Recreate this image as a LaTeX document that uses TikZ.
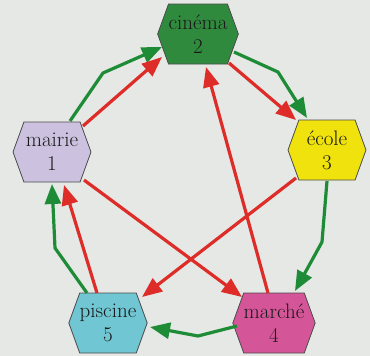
\documentclass[tikz,border=0pt]{standalone}
\usetikzlibrary{shapes.symbols,arrows.meta,calc}
\definecolor{bg}{RGB}{229,232,228}
\definecolor{gr}{RGB}{30,140,55}
\definecolor{rd}{RGB}{222,45,40}
\definecolor{cin}{RGB}{48,138,62}
\definecolor{mai}{RGB}{204,194,224}
\definecolor{eco}{RGB}{240,226,12}
\definecolor{pis}{RGB}{112,198,210}
\definecolor{mar}{RGB}{212,86,152}
\tikzset{
  place/.style={signal, signal to=east and west, signal from=nowhere,
    signal pointer angle=140, minimum width=78pt, minimum height=60pt,
    inner sep=0pt, align=center, draw=black!70, line width=0.8pt,
    font=\fontsize{21}{24}\selectfont, text=black!90},
  garrow/.style={draw=gr, line width=3.2pt, line join=round,
    -{Triangle[length=20pt,width=16pt]}},
  rarrow/.style={draw=rd, line width=3.2pt,
    -{Triangle[length=20pt,width=16pt]}}
}
\begin{document}
\begin{tikzpicture}[x=1pt,y=-1pt]
\fill[bg] (0,0) rectangle (370,356);
\useasboundingbox (0,0) rectangle (370,356);

\node[place, fill=cin] (cinema) at (198,34) {cinéma\\2};
\node[place, fill=mai] (mairie) at (52,152) {mairie\\1};
\node[place, fill=eco] (ecole) at (327,150) {école\\3};
\node[place, fill=mar] (marche) at (274,323) {marché\\4};
\node[place, fill=pis] (piscine) at (108,323) {piscine\\5};

\coordinate (k12) at (103,73);
\coordinate (k23) at (278,72);
\coordinate (k34) at (322,242);
\coordinate (k45) at (198,336);
\coordinate (k51) at (55,248);

% green cycle
\draw[garrow] ($(mairie)+(18,-31)$) -- (k12) -- ($(cinema)+(-36,13)$);
\draw[garrow] ($(cinema)+(36,18)$) -- (k23) -- ($(ecole)+(-20,-32)$);
\draw[garrow] ($(ecole)+(0,31)$) -- (k34) -- ($(marche)+(21,-32)$);
\draw[garrow] ($(marche)+(-37,3)$) -- (k45) -- ($(piscine)+(42,4)$);
\draw[garrow] ($(piscine)+(-21,-30)$) -- (k51) -- ($(mairie)+(0,32)$);

% red arrows
\draw[rarrow] ($(mairie)+(31,-26)$) -- ($(cinema)+(-36,23)$);
\draw[rarrow] ($(cinema)+(31,29)$) -- ($(ecole)+(-31,-30)$);
\draw[rarrow] ($(marche)+(-6,-30)$) -- ($(cinema)+(8,33)$);
\draw[rarrow] ($(mairie)+(32,28)$) -- ($(marche)+(-32,-26)$);
\draw[rarrow] ($(ecole)+(-31,28)$) -- ($(piscine)+(34,-26)$);
\draw[rarrow] ($(piscine)+(-11,-30)$) -- ($(mairie)+(12,33)$);
\end{tikzpicture}
\end{document}
